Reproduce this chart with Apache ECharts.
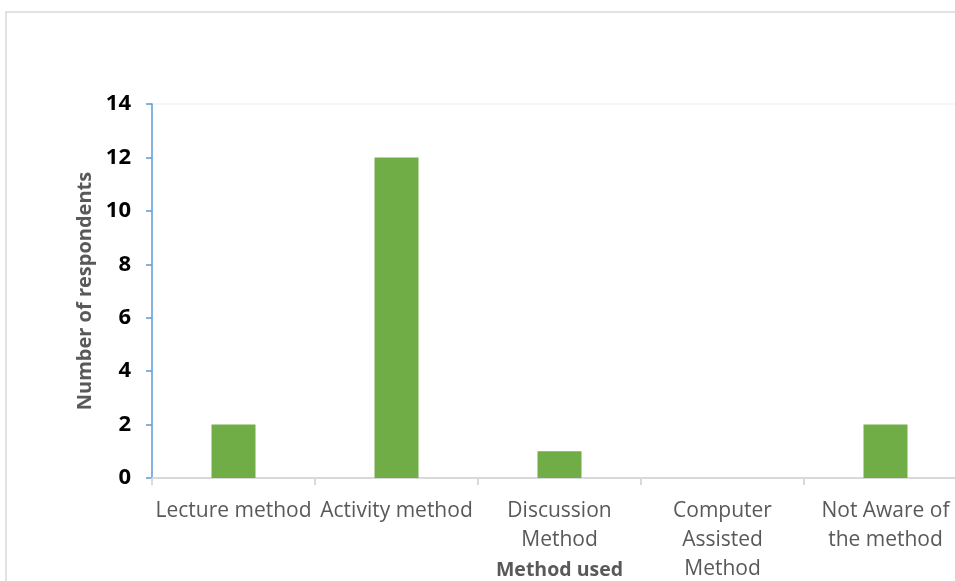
<!DOCTYPE html>
<html><head><meta charset="utf-8">
<script src="https://cdn.jsdelivr.net/npm/echarts@6/dist/echarts.min.js"></script>
<style>html,body{margin:0;padding:0;background:#fff}#c{width:955px;height:581px}</style>
</head><body><div id="c"></div>
<script>
const categories = ["Lecture method", "Activity method", "Discussion\nMethod", "Computer\nAssisted\nMethod", "Not Aware of\nthe method"];
const respondents = [2, 12, 1, 0, 2];
const yTicks = [0, 2, 4, 6, 8, 10, 12, 14];
const xTitle = "Method used";
const yTitle = "Number of respondents";

const chart = echarts.init(document.getElementById('c'));
chart.setOption({
  animation: false,
  backgroundColor: '#fff',
  graphic: [
    {type: 'line', shape: {x1: 5, y1: 12, x2: 955, y2: 12}, style: {stroke: '#D9D9D9', lineWidth: 1.5}},
    {type: 'line', shape: {x1: 6, y1: 12, x2: 6, y2: 581}, style: {stroke: '#D9D9D9', lineWidth: 1.5}}
  ],
  grid: {left: 152, top: 104, bottom: 103, right: -12, containLabel: false, outerBoundsMode: 'none'},
  xAxis: {
    type: 'category',
    data: categories,
    name: xTitle,
    nameLocation: 'middle',
    nameGap: 82,
    nameMoveOverlap: false,
    nameTextStyle: {fontFamily: 'Open Sans', fontWeight: 'bold', fontSize: 19.5, color: '#595959'},
    axisLine: {lineStyle: {color: '#D9D9D9', width: 2}},
    axisTick: {show: true, length: 7, lineStyle: {color: '#D9D9D9', width: 2}},
    axisLabel: {interval: 0, margin: 19, fontFamily: 'Open Sans', fontSize: 21, color: '#595959', lineHeight: 29, hideOverlap: false}
  },
  yAxis: {
    type: 'value',
    min: 0, max: 14, interval: 2,
    name: yTitle,
    nameLocation: 'middle',
    nameGap: 55,
    nameTextStyle: {fontFamily: 'Open Sans', fontWeight: 'bold', fontSize: 20, color: '#595959'},
    axisLine: {show: true, lineStyle: {color: '#5B9BD5', width: 1.5}},
    axisTick: {show: true, length: 6, lineStyle: {color: '#5B9BD5', width: 1.5}},
    splitLine: {show: true, lineStyle: {width: 2, color: ['rgba(0,0,0,0)','rgba(0,0,0,0)','rgba(0,0,0,0)','rgba(0,0,0,0)','rgba(0,0,0,0)','rgba(0,0,0,0)','rgba(0,0,0,0)','#F3F7FC']}},
    axisLabel: {margin: 21, fontFamily: 'Open Sans', fontWeight: 'bold', fontSize: 22, color: '#000',
      formatter: v => yTicks.includes(v) ? String(v) : ''}
  },
  series: [{
    type: 'bar',
    data: respondents,
    barWidth: 44,
    itemStyle: {color: '#70AD47'}
  }]
});
</script>
</body></html>
